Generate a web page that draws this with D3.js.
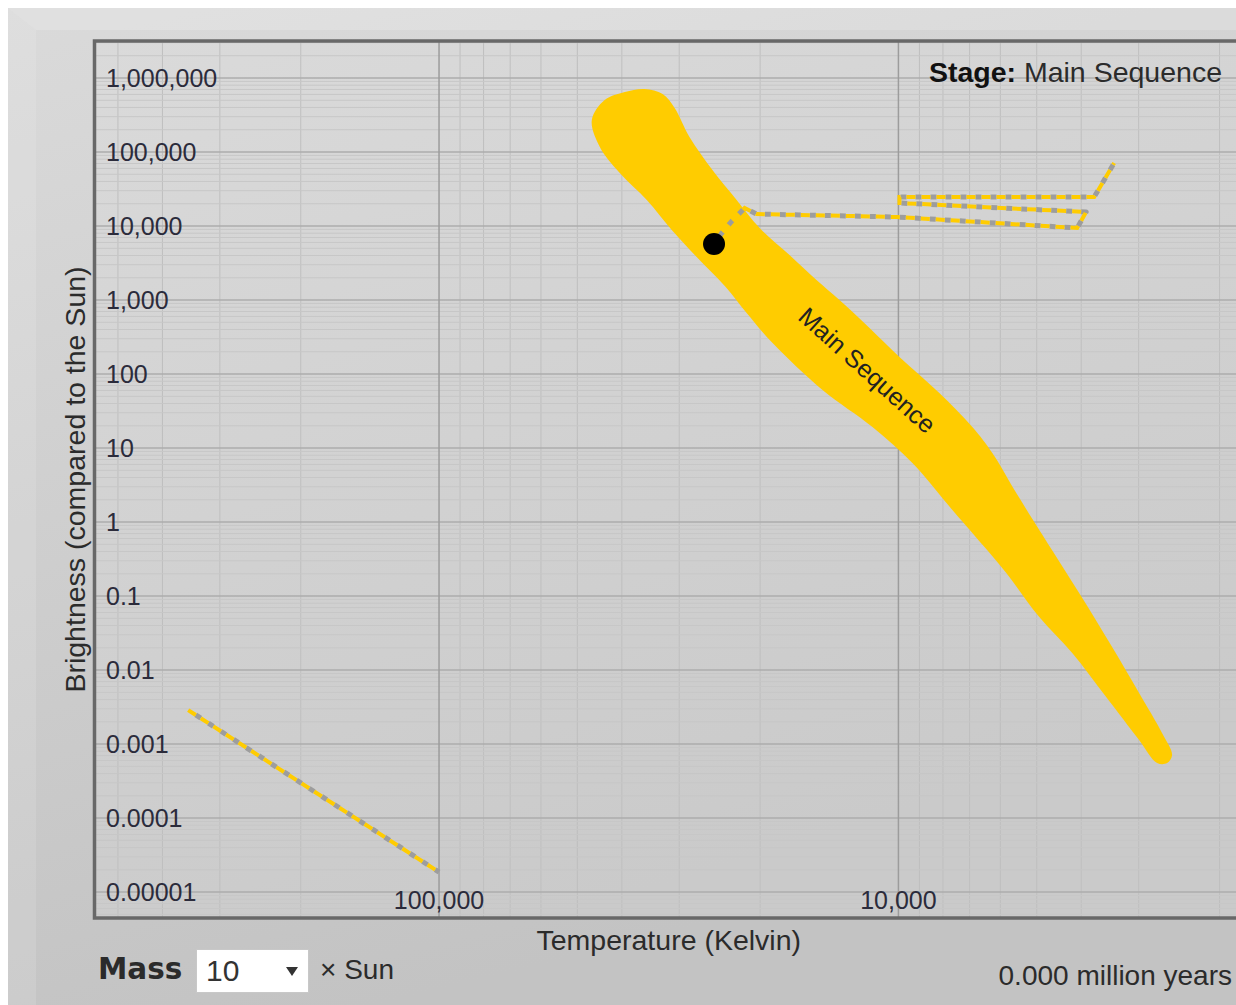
<!DOCTYPE html>
<html>
<head>
<meta charset="utf-8">
<script src="https://cdn.jsdelivr.net/npm/d3@7"></script>
<style>
  body { margin: 0; background: #fff; }
  svg { display: block; font-family: "Liberation Sans", Arial, sans-serif; }
</style>
</head>
<body>
<script>
var w = 1236,
    h = 1005;

// main sequence band outline (temperature in K, brightness vs the Sun)
var bandTemp = [46500, 43600, 39400, 35700, 32600, 30700, 28500, 25400, 22500, 20050,
                17260, 15080, 13440, 11560, 9950, 8146, 6904, 6246, 5539, 4936,
                4042, 3426, 2993, 2668, 2537, 2601, 2735, 2993, 3530, 4185,
                4936, 5824, 6904, 7630, 9324, 11390, 14630, 18790, 21400, 23770,
                27490, 31150, 35300, 40420, 44670];
var bandLum = [270600, 504000, 647000, 710000, 608000, 393000, 159500, 57100, 22500, 9400,
               4055, 1864, 1000, 419, 170, 55.4, 19.2, 8.56, 2.466, 0.78,
               0.1099, 0.02047, 0.004887, 0.001409, 0.00071, 0.000553, 0.000553, 0.001132, 0.004315, 0.01698,
               0.052, 0.2046, 0.71, 1.452, 6.27, 19.2, 60.8, 262, 667, 1500,
               3810, 8830, 22460, 52030, 116800];

// evolution track of a 10 x Sun star
var trackTemp = [25200, 24300, 23000, 21620, 20350, 10050, 4083, 3903, 9950, 9950, 3749, 3392];
var trackLum = [5713, 7900, 11800, 17510, 14530, 13230, 9397, 15460, 20460, 24660, 24660, 71000];

// white dwarf cooling line
var dwarfTemp = [351600, 100000];
var dwarfLum = [0.00288, 0.0000186];

var starTemp = 25200,
    starLum = 5713;

var yTicks = [1000000, 100000, 10000, 1000, 100, 10, 1, 0.1, 0.01, 0.001, 0.0001, 0.00001];
var yTickLabels = ["1,000,000", "100,000", "10,000", "1,000", "100", "10", "1", "0.1", "0.01", "0.001", "0.0001", "0.00001"];
var xTicks = [100000, 10000];
var xTickLabels = ["100,000", "10,000"];

var stageName = "Main Sequence";
var massValue = "10";
var ageText = "0.000 million years";

var pLeft = 94.5, pRight = 1243, pTop = 41, pBottom = 918;

var x = d3.scaleLog().domain([562341, 1778]).range([pLeft, pRight]);
var y = d3.scaleLog().domain([3162278, 0.0000044668]).range([pTop, pBottom]);

var svg = d3.select("body").append("svg")
  .attr("width", w)
  .attr("height", h);

var defs = svg.append("defs");
var pg = defs.append("linearGradient").attr("id", "panelGrad")
  .attr("x1", 0).attr("y1", 0).attr("x2", 0.3).attr("y2", 1);
pg.append("stop").attr("offset", "0%").attr("stop-color", "#dadada");
pg.append("stop").attr("offset", "100%").attr("stop-color", "#c3c3c3");

var plg = defs.append("linearGradient").attr("id", "plotGrad")
  .attr("x1", 0).attr("y1", 0).attr("x2", 0.4).attr("y2", 1);
plg.append("stop").attr("offset", "0%").attr("stop-color", "#dadada");
plg.append("stop").attr("offset", "100%").attr("stop-color", "#cacaca");

defs.append("clipPath").attr("id", "plotClip")
  .append("rect")
  .attr("x", pLeft).attr("y", pTop)
  .attr("width", pRight - pLeft).attr("height", pBottom - pTop);

// page panel with bevel
svg.append("rect")
  .attr("x", 8).attr("y", 8)
  .attr("width", w - 8).attr("height", h - 8)
  .attr("fill", "url(#panelGrad)");
svg.append("path")
  .attr("d", "M8,8 L" + w + ",8 L" + w + ",30 L36,30 Z")
  .attr("fill", "#fff").attr("fill-opacity", 0.18);
svg.append("path")
  .attr("d", "M8,8 L36,30 L36," + h + " L8," + h + " Z")
  .attr("fill", "#fff").attr("fill-opacity", 0.12);

// plot background
svg.append("rect")
  .attr("x", pLeft).attr("y", pTop)
  .attr("width", pRight - pLeft).attr("height", pBottom - pTop)
  .attr("fill", "url(#plotGrad)");

var plot = svg.append("g").attr("clip-path", "url(#plotClip)");

function isDecade(v) {
  var l = Math.log10(v);
  return Math.abs(l - Math.round(l)) < 1e-6;
}

// 1..9 per decade
function decadeSteps(scale) {
  var d = scale.domain(),
      lo = Math.floor(Math.log10(Math.min(d[0], d[1]))),
      hi = Math.ceil(Math.log10(Math.max(d[0], d[1]))),
      out = [];
  for (var e = lo; e <= hi; e++) {
    for (var k = 1; k < 10; k++) out.push(k * Math.pow(10, e));
  }
  return out;
}

var xGrid = decadeSteps(x);
var yGrid = decadeSteps(y);

plot.selectAll("line.xminor").data(xGrid.filter(function(d) { return !isDecade(d); }))
  .enter().append("line")
  .attr("x1", function(d) { return x(d); })
  .attr("x2", function(d) { return x(d); })
  .attr("y1", pTop).attr("y2", pBottom)
  .attr("stroke", "#bfbfbf").attr("stroke-width", 1);

plot.selectAll("line.yminor").data(yGrid.filter(function(d) { return !isDecade(d); }))
  .enter().append("line")
  .attr("x1", pLeft).attr("x2", pRight)
  .attr("y1", function(d) { return y(d); })
  .attr("y2", function(d) { return y(d); })
  .attr("stroke", "#c7c7c7").attr("stroke-width", 1);

plot.selectAll("line.ymajor").data(yGrid.filter(isDecade))
  .enter().append("line")
  .attr("x1", pLeft).attr("x2", pRight)
  .attr("y1", function(d) { return y(d); })
  .attr("y2", function(d) { return y(d); })
  .attr("stroke", "#acacac").attr("stroke-width", 1.5);

plot.selectAll("line.xmajor").data(xGrid.filter(isDecade))
  .enter().append("line")
  .attr("x1", function(d) { return x(d); })
  .attr("x2", function(d) { return x(d); })
  .attr("y1", pTop).attr("y2", pBottom)
  .attr("stroke", "#9c9c9c").attr("stroke-width", 1.5);

// dashed tracks: gray under, yellow dashes on top
function drawTrack(temps, lums, curve) {
  var pts = temps.map(function(t, i) { return [x(t), y(lums[i])]; });
  var line = d3.line().curve(curve || d3.curveLinear);
  plot.append("path").attr("d", line(pts))
    .attr("fill", "none").attr("stroke", "#9d9d9d")
    .attr("stroke-width", 5).attr("stroke-linejoin", "round")
    .attr("stroke-dasharray", "6,9").attr("stroke-dashoffset", -9);
  plot.append("path").attr("d", line(pts))
    .attr("fill", "none").attr("stroke", "#ffcc00")
    .attr("stroke-width", 4).attr("stroke-dasharray", "9,6");
}

drawTrack(dwarfTemp, dwarfLum);

// main sequence band
var band = bandTemp.map(function(t, i) { return [x(t), y(bandLum[i])]; });
plot.append("path")
  .attr("d", d3.line().curve(d3.curveCatmullRomClosed.alpha(0.5))(band))
  .attr("fill", "#ffcc00");

plot.append("text")
  .attr("transform", "translate(" + x(11680) + "," + y(113) + ") rotate(42)")
  .attr("text-anchor", "middle")
  .attr("dominant-baseline", "central")
  .attr("font-size", "25px")
  .attr("fill", "#222")
  .text("Main Sequence");

drawTrack(trackTemp, trackLum);

plot.append("circle")
  .attr("cx", x(starTemp)).attr("cy", y(starLum))
  .attr("r", 11).attr("fill", "#000");

// tick labels
svg.selectAll("text.ytick").data(yTicks)
  .enter().append("text")
  .attr("x", 106)
  .attr("y", function(d) { return y(d) + 9; })
  .attr("font-size", "25px")
  .attr("fill", "#2b2b3b")
  .text(function(d, i) { return yTickLabels[i]; });

svg.selectAll("text.xtick").data(xTicks)
  .enter().append("text")
  .attr("x", function(d) { return x(d); })
  .attr("y", 909)
  .attr("text-anchor", "middle")
  .attr("font-size", "25px")
  .attr("fill", "#2b2b3b")
  .text(function(d, i) { return xTickLabels[i]; });

// plot border
svg.append("rect")
  .attr("x", pLeft).attr("y", pTop)
  .attr("width", pRight - pLeft).attr("height", pBottom - pTop)
  .attr("fill", "none").attr("stroke", "#686868").attr("stroke-width", 3.5);

// axis titles
svg.append("text")
  .attr("x", (pLeft + pRight) / 2).attr("y", 950)
  .attr("text-anchor", "middle")
  .attr("font-size", "28.5px").attr("fill", "#2b2b2b")
  .text("Temperature (Kelvin)");

svg.append("text")
  .attr("transform", "translate(85," + ((pTop + pBottom) / 2) + ") rotate(-90)")
  .attr("text-anchor", "middle")
  .attr("font-size", "28.5px").attr("fill", "#2b2b2b")
  .text("Brightness (compared to the Sun)");

// stage label
var st = svg.append("text")
  .attr("x", 1222).attr("y", 82)
  .attr("text-anchor", "end")
  .attr("font-size", "28.5px").attr("fill", "#2b2b2b");
st.append("tspan").attr("font-weight", "bold").attr("fill", "#111").text("Stage:");
st.append("tspan").text(" " + stageName);

// mass selector
svg.append("text")
  .attr("x", 98).attr("y", 979)
  .attr("font-family", "'DejaVu Sans', Verdana, sans-serif")
  .attr("font-weight", "bold").attr("font-size", "29.5px").attr("fill", "#2b2b2b")
  .text("Mass");

svg.append("rect")
  .attr("x", 196.5).attr("y", 949.5)
  .attr("width", 112).attr("height", 43)
  .attr("fill", "#fff").attr("stroke", "#c8c8c8");

svg.append("text")
  .attr("x", 206).attr("y", 981)
  .attr("font-size", "30px").attr("fill", "#333")
  .text(massValue);

svg.append("path")
  .attr("d", "M286,967 L298,967 L292,976 Z")
  .attr("fill", "#333");

svg.append("text")
  .attr("x", 320).attr("y", 979)
  .attr("font-size", "28px").attr("fill", "#2b2b2b")
  .text("\u00d7 Sun");

svg.append("text")
  .attr("x", 1232).attr("y", 985)
  .attr("text-anchor", "end")
  .attr("font-size", "28px").attr("fill", "#2b2b2b")
  .text(ageText);
</script>
</body>
</html>
